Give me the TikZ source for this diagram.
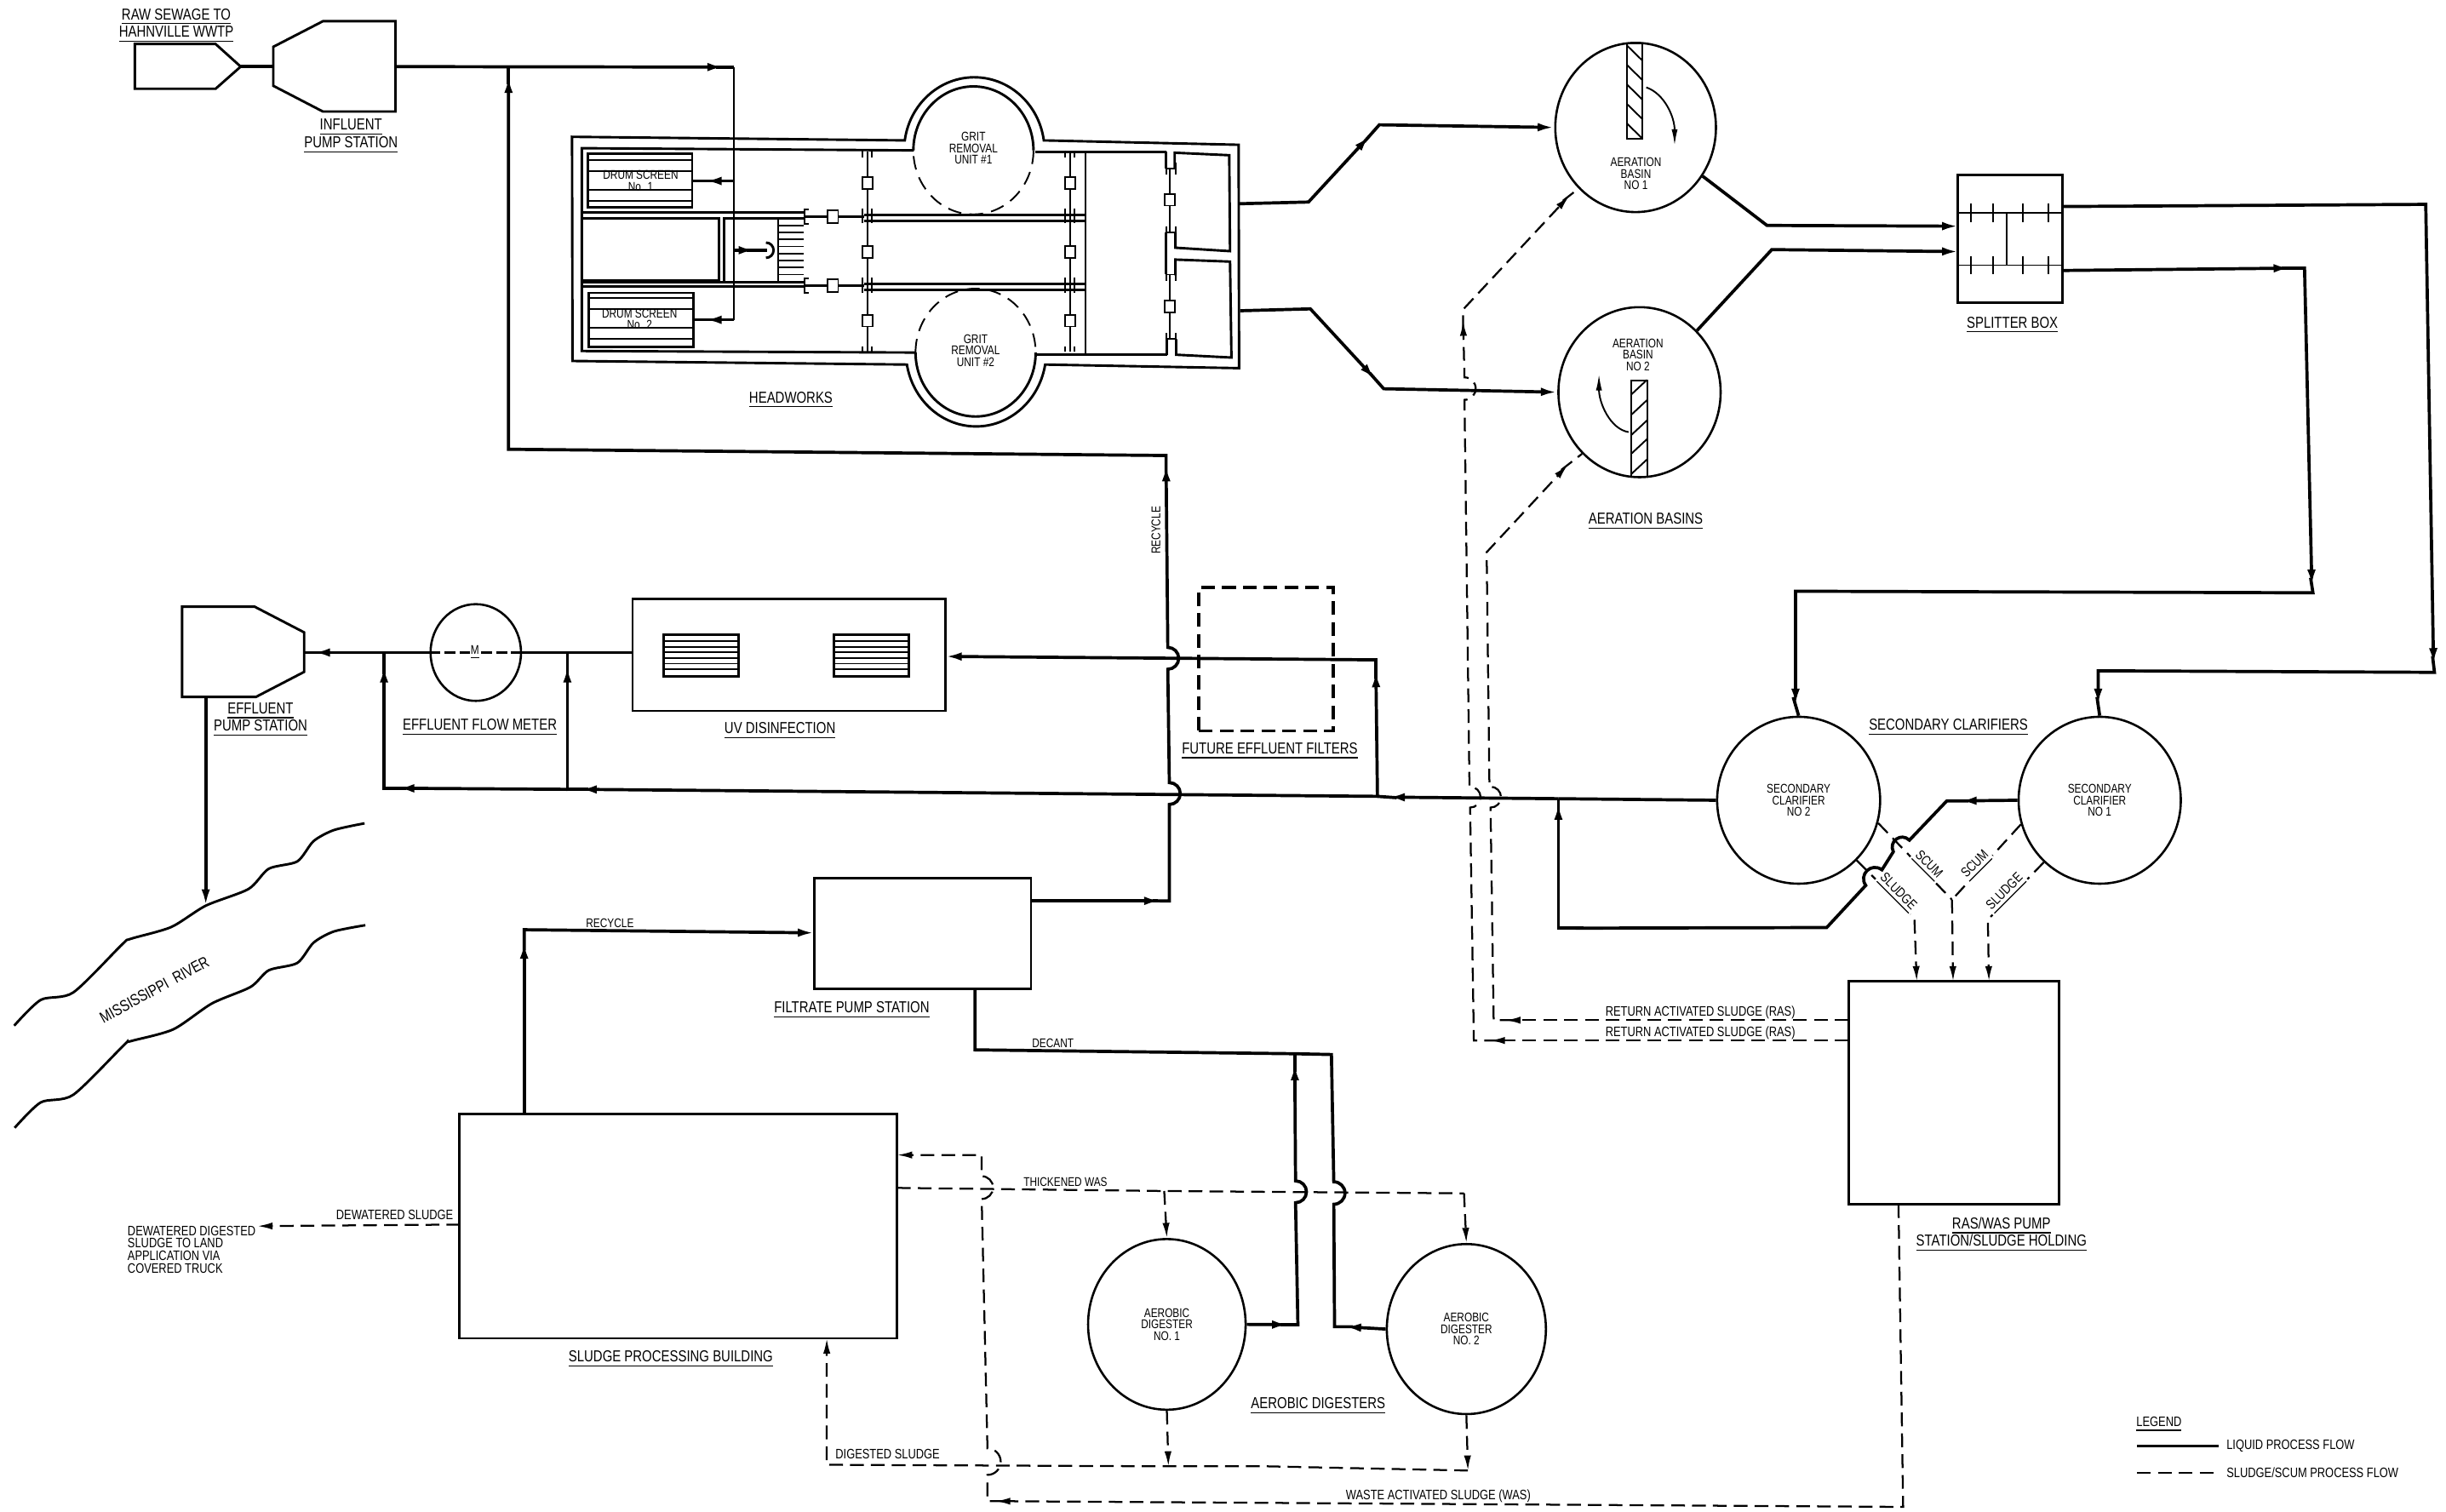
\documentclass[tikz,border=0pt]{standalone}
\usepackage{fontspec}
\setmainfont[FakeStretch=0.8]{Liberation Sans}
\usetikzlibrary{arrows.meta,shapes.geometric}
\tikzset{
  x=0.2mm,y=-0.2mm,
  wall/.style={line width=.9pt},
  fine/.style={line width=.6pt},
  liq/.style={line width=1.15pt},
  liqa/.style={liq,-{Latex[length=6pt,width=3.1pt]}},
  slg/.style={line width=.7pt,dash pattern=on 5pt off 2.6pt},
  slga/.style={slg,-{Latex[length=5.5pt,width=2.6pt]}},
  cont/.style={shorten <=-3pt},
  hopu/.style={start angle=90,end angle=-90,radius=#1},
  tank/.style 2 args={ellipse,draw,line width=.8pt,inner sep=0pt,align=center,
    font=\fontsize{4.6}{4.2}\selectfont,minimum width=#1*.2mm,minimum height=#2*.2mm},
  bx/.style 2 args={rectangle,draw,line width=.8pt,inner sep=0pt,
    minimum width=#1*.2mm,minimum height=#2*.2mm},
  lab/.style={inner sep=0pt,align=center,font=\fontsize{4.6}{4.2}\selectfont},
  labw/.style={inner sep=0pt,align=center,font=\fontsize{5}{4.6}\selectfont},
  ttl/.style={inner sep=0pt,align=center,yshift=-.8pt,font=\fontsize{5.8}{6.4}\selectfont},
}
\begin{document}
\begin{tikzpicture}
\fill[white] (0,0) rectangle (1568,969);
% influent side
\draw[wall] (86.4,28.2) -- (138.2,28.2) -- (154.3,42.7) -- (138.2,56.9) -- (86.4,56.9) -- cycle;
\draw[wall] (175.2,30) -- (207,13.6) -- (253.5,13.6) -- (253.5,71.5) -- (207,71.5) -- (175.2,55) -- cycle;
\coordinate (rawtip) at (154.3,42.7);
\coordinate (ipsW) at (175.2,42.7);
\coordinate (ipsE) at (253.5,42.7);
\coordinate (infA) at (464,43);
\coordinate (infT) at (470.6,43);
\coordinate (recT) at (326,43);
\coordinate (recB) at (326,49);
\coordinate (inf1) at (470.6,116);
\coordinate (inf3) at (470.6,160.4);
\coordinate (infB) at (470.6,205);
\node[ttl] (rawlab) at (113,15) {\underline{RAW SEWAGE TO}\\\underline{HAHNVILLE WWTP}};
\node[ttl] (ipslab) at (225,86) {\underline{INFLUENT}\\\underline{PUMP STATION}};
\draw[liq] (rawtip) -- (ipsW);
\draw[liqa] (ipsE) -- (infA);
\draw[liq,cont] (infA) -- (infT);
\draw[fine] (infT) -- (infB);
% headworks
\draw[wall] (366.7,87.7) -- (580,90) arc[start angle=188,end angle=352,x radius=45,y radius=47]
  -- (794,92.8) -- (794.3,236) -- (670,233.7) arc[start angle=10,end angle=170,x radius=45,y radius=48]
  -- (367,231.4) -- cycle;
\draw[wall] (585.8,96.4) -- (373,95) -- (373,225) -- (587,226);
\draw[wall] (663.7,97.3) -- (747.5,97.3);
\draw[wall] (664,227.4) -- (748,227.4);
\draw[wall] (585.5,96.4) arc[start angle=180,end angle=360,x radius=38.5,y radius=41];
\draw[fine,dash pattern=on 5pt off 3pt] (662.5,96.4) arc[start angle=0,end angle=180,x radius=38.5,y radius=41];
\draw[fine,dash pattern=on 5pt off 3pt] (586.9,226) arc[start angle=180,end angle=360,x radius=38.5,y radius=41];
\draw[wall] (663.9,226) arc[start angle=0,end angle=180,x radius=38.5,y radius=41];
\node[lab] (grit1) at (624,95) {GRIT\\REMOVAL\\UNIT \#1};
\node[lab] (grit2) at (625.4,224.7) {GRIT\\REMOVAL\\UNIT \#2};
% drum screens
\node[bx={66.6}{34.4}] (ds1) at (410.3,115.8) {};
\node[bx={67}{34.6}] (ds2) at (411,205) {};
\foreach \y in {102.8,109.7,121.9,128.6} \draw[fine] (377,\y) -- (443.6,\y);
\foreach \y in {191,198,210,217.4} \draw[fine] (377.5,\y) -- (444.5,\y);
\node[lab] (ds1lab) at (410.7,115.8) {DRUM SCREEN\\No. 1};
\node[lab] (ds2lab) at (410,204.5) {DRUM SCREEN\\No. 2};
\coordinate (ds1A) at (452,116);
\coordinate (ds2A) at (452,205);
\draw[liqa] (inf1) -- (ds1A);
\draw[liq,cont] (ds1A) -- (ds1.east |- ds1A);
\draw[liqa] (infB) -- (ds2A);
\draw[liq,cont] (ds2A) -- (ds2.east |- ds2A);
% channels
\draw[wall] (373,136.4) -- (515.5,136.4);
\draw[wall] (373,183.7) -- (515.5,183.7);
\draw[wall] (373,181) -- (515.5,181);
\draw[wall] (373,140) -- (460.7,140) -- (460.7,179.7) -- (373,179.7);
\draw[wall] (515.5,140) -- (464,140) -- (464,181);
\foreach \y in {140,144.5,...,181} \draw[fine] (499,\y) -- (515,\y);
\draw[fine] (499,140) -- (499,181);
\foreach \y in {138.8,183.2} {
  \draw[wall] (515.5,\y) -- (554,\y);
  \draw[fine] (518.5,\y-4.5) -- (515.5,\y-4.5) -- (515.5,\y+4.5) -- (518.5,\y+4.5);
  \draw[fine,fill=white] (530.7,\y-4) rectangle (537.3,\y+4);
}
\draw[wall] (554,137.9) -- (696,137.9);
\draw[wall] (554,141.7) -- (696,141.7);
\draw[wall] (554,182) -- (696,182);
\draw[wall] (554,186) -- (696,186);
\draw[fine] (696,97.3) -- (696,227.4);
\foreach \x in {556,686} {
  \draw[fine] (\x,97) -- (\x,225.5);
  \foreach \y/\z in {96.4/101,133.7/142.8,178/188,222/225.5} {
    \draw[fine] (\x-3,\y) -- (\x-3,\z);
    \draw[fine] (\x+3,\y) -- (\x+3,\z);
  }
  \foreach \y in {117.3,161.5,205.5} \draw[fine,fill=white] (\x-3.2,\y-3.8) rectangle (\x+3.2,\y+3.8);
}
\draw[wall] (491,155.5) arc[start angle=-90,end angle=90,radius=4.9];
\coordinate (scrA) at (484,160.4);
\coordinate (scrE) at (492,160.4);
\draw[liqa] (inf3) -- (scrA);
\draw[liq,cont] (scrA) -- (scrE);
% right end of headworks
\draw[wall] (753,108) -- (753,97.9) -- (788,99.5) -- (788.5,161) -- (753.5,158.8) -- (753.5,149);
\draw[wall] (753.5,176.5) -- (753.5,166.4) -- (788.5,167.7) -- (789.4,229.2) -- (754,227.4) -- (754,217.4);
\draw[wall] (747.5,97.3) -- (747.5,108);
\draw[wall] (747.5,149) -- (747.5,175.5);
\draw[wall] (748,217.4) -- (748,227.4);
\foreach \y in {108,149,176,217.4} {
  \draw[fine] (747,\y) -- (754,\y);
  \draw[fine] (747.5,\y-4) -- (747.5,\y+4);
  \draw[fine] (753.5,\y-4) -- (753.5,\y+4);
}
\draw[fine] (750,108) -- (750,149);
\draw[fine] (750,176) -- (750,217.4);
\foreach \y in {128,196.5} \draw[fine,fill=white] (746.8,\y-3.8) rectangle (753.2,\y+3.8);
\node[ttl] (hwlab) at (507,255) {\underline{HEADWORKS}};
% aeration basins
\node[tank={103}{108.5}] (ab1) at (1048.5,81.7) {};
\node[tank={104}{109}] (ab2) at (1051,251.4) {};
\draw[fine] (1042.8,27.8) rectangle (1053,89);
\draw[fine] (1045.6,244) rectangle (1055.8,305.4);
\foreach \y in {29,41.5,54,66.5,79} \draw[fine] (1042.8,\y) -- (1053,\y+10);
\foreach \y in {253,266,279,291,304} \draw[fine] (1045.6,\y) -- (1055.8,\y-9.5);
\coordinate (ab1a) at (1055.3,56);
\coordinate (ab1b) at (1073.5,93.4);
\coordinate (ab2a) at (1044,277);
\coordinate (ab2b) at (1025,239.7);
\draw[fine,-{Latex[length=6pt,width=2.2pt]}] (ab1a) .. controls (1067,60) and (1073.5,75) .. (ab1b);
\draw[fine,-{Latex[length=6pt,width=2.2pt]}] (ab2a) .. controls (1032,275) and (1025,258) .. (ab2b);
\node[lab] (ab1lab) at (1048.7,111.3) {AERATION\\BASIN\\NO 1};
\node[lab] (ab2lab) at (1050,227.4) {AERATION\\BASIN\\NO 2};
\node[ttl] (ablab) at (1055,333) {\underline{AERATION BASINS}};
\coordinate (hwN) at (794.5,130.6);
\coordinate (hwS) at (795,199.2);
\coordinate (hwNa) at (878,87);
\coordinate (hwSa) at (881.5,243);
\draw[liqa] (hwN) -- (838.8,129.5) -- (hwNa);
\draw[liqa,cont] (hwNa) -- (884.2,80) -- (ab1.west);
\draw[liqa] (hwS) -- (840,198) -- (hwSa);
\draw[liqa,cont] (hwSa) -- (887,249.2) -- (ab2.west);
% splitter box
\node[bx={67}{82}] (spl) at (1288.5,153) {};
\foreach \y in {136.3,170} {
  \draw[fine] (1256,\y) -- (1322,\y);
  \foreach \x in {1263.4,1277.6,1296.7,1313.3} \draw[fine] (\x,\y-6) -- (\x,\y+6);
}
\draw[fine] (1286.6,136.3) -- (1286.6,170);
\node[ttl] (spllab) at (1290,207) {\underline{SPLITTER BOX}};
\coordinate (splW1) at (1255.5,145);
\coordinate (splW2) at (1255.5,161.3);
\coordinate (splE1) at (1321.5,132.4);
\coordinate (splE2) at (1322,173.4);
\draw[liqa] (ab1.-36) -- (1132.7,144.5) -- (splW1);
\draw[liqa] (ab2.47) -- (1135.8,160) -- (splW2);
% secondary clarifiers
\node[tank={104.5}{107}] (sc2) at (1153,513) {SECONDARY\\CLARIFIER\\NO 2};
\node[tank={104}{107}] (sc1) at (1346,513) {SECONDARY\\CLARIFIER\\NO 1};
\node[ttl] (sclab) at (1249,465) {\underline{SECONDARY CLARIFIERS}};
\coordinate (fl1) at (1560,426);
\coordinate (fl2) at (1345,452);
\coordinate (fl0) at (1468,171.9);
\coordinate (fl3) at (1482,375.6);
\coordinate (fl4) at (1151,452);
\draw[liqa] (splE1) -- (1555,131) -- (fl1);
\draw[liqa,cont] (fl1) -- (1560.6,431) -- (1345,430) -- (fl2);
\draw[liq,cont] (fl2) -- (sc1.north);
\draw[liqa] (splE2) -- (fl0);
\draw[liqa,cont] (fl0) -- (1477.3,171.9) -- (fl3);
\draw[liqa,cont] (fl3) -- (1482.7,380) -- (1151,379) -- (fl4);
\draw[liq,cont] (fl4) -- (sc2.north);
% ras/was pump station
\node[bx={135}{143}] (ras) at (1252.5,700.5) {};
\node[ttl] (raslab) at (1283,790) {\underline{RAS/WAS PUMP}\\\underline{STATION/SLUDGE HOLDING}};
\coordinate (ygrp) at (1251.3,576.8);
\coordinate (rasT1) at (1228.7,629);
\coordinate (rasT2) at (1252,629);
\coordinate (rasT3) at (1275,629);
\draw[slg] (sc2.-16) -- (ygrp);
\draw[slg] (sc1.197) -- (ygrp);
\draw[slga] (ygrp) -- (rasT2);
\draw[slga] (sc2.-46) -- (1227.2,588.6) -- (rasT1);
\draw[slga] (sc1.228) -- (1274.3,589.5) -- (rasT3);
\node[labw,rotate=-45,fill=white,inner sep=.8pt] (scumA) at (1235.5,555) {\underline{SCUM}};
\node[labw,rotate=45,fill=white,inner sep=.8pt] (scumB) at (1267,555) {\underline{SCUM}};
\node[labw,rotate=-45,fill=white,inner sep=.8pt] (sludA) at (1216,572.5) {\underline{SLUDGE}};
\node[labw,rotate=45,fill=white,inner sep=.8pt] (sludB) at (1286,572.5) {\underline{SLUDGE}};
% clarifier outlets
\coordinate (sc1a) at (1256.5,513.4);
\coordinate (wst1) at (1010,595);
\coordinate (wst2) at (999,595);
\coordinate (wst3) at (999,515);
\coordinate (mainj) at (999,512);
\draw[liqa] (sc1.west) -- (sc1a);
\draw[liq,cont] (sc1a) -- (1248,513.4) -- (1224,538.6) to[bend right=80,looseness=1.5] (1213.7,546)
  -- (1206.4,557.6) to[bend right=80,looseness=1.5] (1196,567.6) -- (1171,594.6) -- (wst1);
\draw[liqa,cont] (wst1) -- (wst2) -- (wst3);
\draw[liq,cont] (wst3) -- (mainj);
\coordinate (mn1) at (890,511);
\coordinate (mn2) at (883,510.5);
\coordinate (mn3) at (372,506);
\coordinate (mn4) at (363.7,506);
\coordinate (mn5) at (255,505.3);
\coordinate (up1) at (246.2,427);
\coordinate (up2) at (363.7,427);
\draw[liq] (sc2.west) -- (mainj);
\draw[liqa] (mainj) -- (mn1);
\draw[liq,cont] (mn1) -- (mn2);
\draw[liqa] (mn2) -- (mn3);
\draw[liq,cont] (mn3) -- (mn4);
\draw[liqa] (mn4) -- (mn5);
\draw[liqa,cont] (mn5) -- (246.2,505.3) -- (up1);
\draw[liqa] (mn4) -- (up2);
% uv, meter, effluent
\node[bx={200.6}{72}] (uv) at (505.7,419.8) {};
\foreach \x in {425.5,534.4} {
  \draw[wall] (\x,406.8) rectangle (\x+48,433.5);
  \foreach \y in {411,414.6,418.2,421.8,425.4,429} \draw[fine] (\x,\y) -- (\x+48,\y);
}
\node[tank={58}{62}] (met) at (305,418.3) {};
\node[lab] (mlab) at (304.5,418.3) {\underline{M}};
\draw[liq,dash pattern=on 4pt off 1.5pt] (met.west) -- (mlab.west);
\draw[liq,dash pattern=on 4pt off 1.5pt] (met.east) -- (mlab.east);
\draw[wall] (116.7,388.9) -- (163.2,388.9) -- (195,405.4) -- (195,430.7) -- (164,446.8) -- (116.7,446.8) -- cycle;
\node[ttl] (eflab) at (167,460) {\underline{EFFLUENT}\\\underline{PUMP STATION}};
\node[ttl] (metlab) at (307.6,465) {\underline{EFFLUENT FLOW METER}};
\node[ttl] (uvlab) at (500,467) {\underline{UV DISINFECTION}};
\node[bx={86}{92},line width=1.2pt,dash pattern=on 5pt off 2.6pt] (fut) at (811.6,422.5) {};
\node[ttl] (futlab) at (814,480) {\underline{FUTURE EFFLUENT FILTERS}};
\coordinate (uvW) at (405.5,418.3);
\coordinate (uvE) at (606,420.8);
\coordinate (efA) at (201,418.3);
\coordinate (efE) at (195,418.3);
\coordinate (mtr1) at (246.2,418.3);
\coordinate (mtr2) at (363.7,418.3);
\coordinate (ufa) at (882,430);
\draw[liq] (uvW) -- (met.east);
\draw[liqa] (met.west) -- (efA);
\draw[liq,cont] (efA) -- (efE);
\draw[liq,cont] (up1) -- (mtr1);
\draw[liq,cont] (up2) -- (mtr2);
\draw[liqa] (mn2) -- (ufa);
\draw[liqa,cont] (ufa) -- (882,423) -- (uvE);
\coordinate (efS) at (131.9,446.8);
\coordinate (efR) at (131.9,580.6);
\draw[liqa] (efS) -- (efR);
% river
\draw[wall] plot[smooth,tension=.45] coordinates {(9.1,657.5) (26.1,641) (47,636.2) (78.3,605.4)
  (83.6,601.9) (109.7,594.3) (131.9,580.6) (159.3,569.9) (172.3,556.9) (190.6,552.2) (201,539.2)
  (214.1,532.1) (233.7,527.8)};
\draw[wall] plot[smooth,tension=.45] coordinates {(9.4,723) (26.1,706.7) (47,701.8) (79.6,669.8)
  (83.6,667.5) (111,659.9) (135.8,643.3) (160.6,632.7) (172.3,622) (190.6,617.3) (201,604.3)
  (214.1,597.1) (234.2,593.1)};
\node[ttl,rotate=28.5] (rivlab) at (99,633) {MISSISSIPPI\ \ RIVER};
% filtrate pump station and sludge building
\node[bx={139}{71}] (fps) at (591.5,598.5) {};
\node[bx={280.5}{144}] (spb) at (434.7,786) {};
\node[ttl] (fpslab) at (546,646) {\underline{FILTRATE PUMP STATION}};
\node[ttl] (spblab) at (430,870) {\underline{SLUDGE PROCESSING BUILDING}};
\node[lab] (rec1) at (741,340) [rotate=90] {RECYCLE};
\node[lab] (rec2) at (391,592) {RECYCLE};
\node[lab] (dec) at (675,669) {DECANT};
\coordinate (fpsE) at (661,577.5);
\coordinate (fpsW) at (522,598);
\coordinate (fpsS) at (625,634);
\coordinate (fpsA) at (744,577.5);
\coordinate (recA) at (747.5,298);
\coordinate (spbN) at (336,714);
\coordinate (spbA) at (336,604);
\draw[liqa] (fpsE) -- (fpsA);
\draw[liqa,cont] (fpsA) -- (749.6,577.6) -- (749.6,515.7) arc[hopu=7] -- (748.6,429) arc[hopu=7] -- (recA);
\draw[liqa,cont] (recA) -- (747.5,292) -- (326,288) -- (recB);
\draw[liq,cont] (recB) -- (recT);
\draw[liqa] (spbN) -- (spbA);
\draw[liqa,cont] (spbA) -- (336,596) -- (fpsW);
% aerobic digesters
\node[tank={101}{109.4}] (dg1) at (748,849) {AEROBIC\\DIGESTER\\NO. 1};
\node[tank={102}{109}] (dg2) at (940,852) {AEROBIC\\DIGESTER\\NO. 2};
\node[ttl] (dglab) at (845,900) {\underline{AEROBIC DIGESTERS}};
\coordinate (dc1) at (826,849.2);
\coordinate (dc2) at (830,682);
\coordinate (dc3) at (830,675.5);
\coordinate (dc4) at (862,850.5);
\draw[liqa] (dg1.east) -- (dc1);
\draw[liqa,cont] (dc1) -- (832,849.2) -- (830.5,771) arc[hopu=7] -- (dc2);
\draw[liq,cont] (dc2) -- (dc3);
\draw[liqa] (dg2.west) -- (dc4);
\draw[liq,cont] (dc4) -- (855.5,850.5) -- (855,772) arc[hopu=7.2] -- (853.5,676) -- (dc3) -- (625,673) -- (fpsS);
% thickened, digested and waste sludge
\coordinate (spbE1) at (575,740.4);
\coordinate (spbE2) at (575,761.5);
\coordinate (spbS) at (530,858);
\coordinate (spbW) at (295,785);
\coordinate (thk1) at (746.3,763.5);
\coordinate (thk2) at (938.5,765);
\coordinate (dgj1) at (749,940);
\coordinate (dgj2) at (941,942.7);
\coordinate (rasS) at (1217,772);
\coordinate (rasW1) at (1185,654);
\coordinate (rasW2) at (1185,667);
\coordinate (wasA) at (638,962.3);
\coordinate (truck) at (165,786);
\draw[slg] (spbE2) -- (thk1) -- (thk2);
\draw[slga] (thk1) -- (dg1.north);
\draw[slga] (thk2) -- (dg2.north);
\draw[slga] (dg1.south) -- (dgj1);
\draw[slga] (dg2.south) -- (dgj2);
\draw[slga] (dgj2) -- (813,940) -- (dgj1) -- (530,939) -- (spbS);
\draw[slga] (rasS) -- (1220,966) -- (wasA);
\draw[slga,cont] (wasA) -- (633,962.3) -- (633,945.5) arc[hopu=8.5] -- (629.3,768.6) arc[hopu=7.3] -- (629.3,740.4) -- (spbE1);
\draw[slga] (spbW) -- (truck);
\node[lab] (thklab) at (683,758) {THICKENED WAS};
\node[labw] (diglab) at (569,932) {DIGESTED SLUDGE};
\node[labw] (waslab) at (922,959) {WASTE ACTIVATED SLUDGE (WAS)};
\node[labw] (dewlab) at (253,779) {DEWATERED SLUDGE};
\node[labw,align=left,anchor=west] (trklab) at (81.5,801) {DEWATERED DIGESTED\\SLUDGE TO LAND\\APPLICATION VIA\\COVERED TRUCK};
% return activated sludge
\coordinate (ra1) at (965,654);
\coordinate (ra2) at (1005,298);
\coordinate (ra3) at (955,667);
\coordinate (ra4) at (937.9,205.6);
\coordinate (ra5) at (1006,125.5);
\draw[slga] (rasW1) -- (ra1);
\draw[slga,cont] (ra1) -- (957.5,654) -- (955.5,517.7) arc[hopu=6.7] -- (954.8,504.4) -- (953,354) -- (ra2);
\draw[slg,cont] (ra2) -- (ab2.227);
\draw[slga] (rasW2) -- (ra3);
\draw[slga,cont] (ra3) -- (944.8,667) -- (942.4,517.7) arc[hopu=6.7] -- (942,504.4) -- (938.8,256.3) arc[hopu=7.2] -- (ra4);
\draw[slga,cont] (ra4) -- (937.9,198.4) -- (ra5);
\draw[slg,cont] (ra5) -- (ab1.227);
\node[labw] (rs1lab) at (1090,649) {RETURN ACTIVATED SLUDGE (RAS)};
\node[labw] (rs2lab) at (1090,662) {RETURN ACTIVATED SLUDGE (RAS)};
% legend
\node[labw] (leg) at (1384,913) {\underline{LEGEND}};
\coordinate (lg1a) at (1370,927);
\coordinate (lg1b) at (1422,927);
\coordinate (lg2a) at (1370,944);
\coordinate (lg2b) at (1422,944);
\draw[liq] (lg1a) -- (lg1b);
\draw[slg] (lg2a) -- (lg2b);
\node[labw,anchor=west] (leg1) at (1427,927) {LIQUID PROCESS FLOW};
\node[labw,anchor=west] (leg2) at (1427,944) {SLUDGE/SCUM PROCESS FLOW};
\end{tikzpicture}
\end{document}
